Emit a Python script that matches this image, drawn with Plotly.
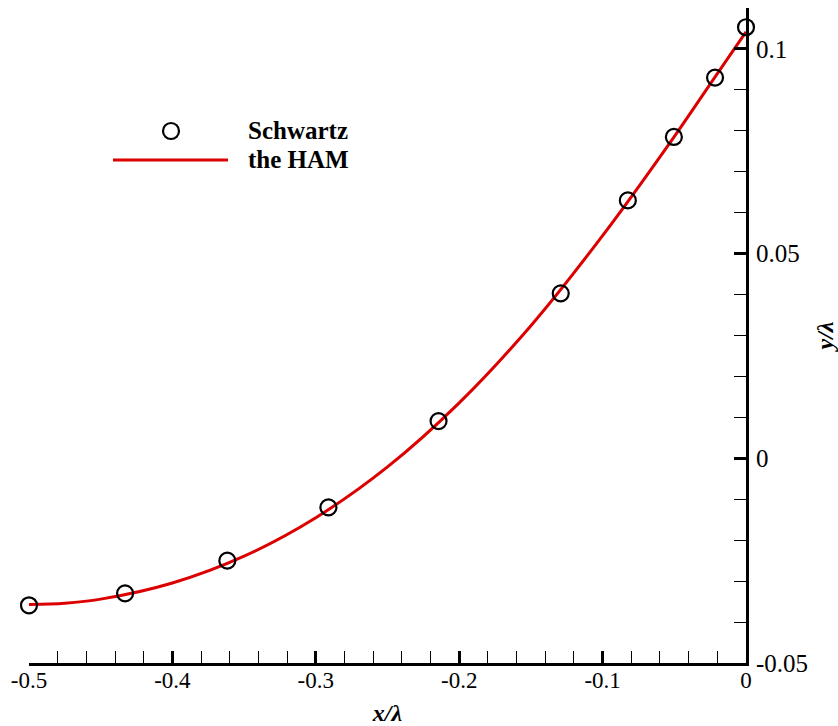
import plotly.graph_objects as go

# Schwartz data (circles)
schwartz_x = [-0.5, -0.433, -0.3617, -0.2912, -0.2144, -0.1292, -0.0824, -0.0503, -0.0216, 0.0]
schwartz_y = [-0.0359, -0.0330, -0.0250, -0.0120, 0.0091, 0.0403, 0.0630, 0.0785, 0.0930, 0.1053]

# HAM curve (red line)
ham_x = [-0.5, -0.475, -0.45, -0.4, -0.35, -0.3, -0.25, -0.2, -0.15, -0.1, -0.05, -0.025, 0.0]
ham_y = [-0.0357, -0.0354, -0.0344, -0.03045, -0.0239, -0.0145, -0.0021, 0.01355, 0.0324, 0.0544, 0.0786, 0.0914, 0.1042]

x_ticks = [-0.5, -0.4, -0.3, -0.2, -0.1, 0]
x_labels = ["-0.5", "-0.4", "-0.3", "-0.2", "-0.1", "0"]
y_ticks = [-0.05, 0, 0.05, 0.1]
y_labels = ["-0.05", "0", "0.05", "0.1"]

RED = "rgb(220,0,0)"
FONT = "Liberation Serif"

fig = go.Figure()
fig.add_trace(go.Scatter(x=ham_x, y=ham_y, mode="lines",
                         line=dict(color=RED, width=3, shape="spline", smoothing=1.0),
                         name="the HAM", showlegend=False, cliponaxis=False))
fig.add_trace(go.Scatter(x=schwartz_x, y=schwartz_y, mode="markers",
                         marker=dict(symbol="circle-open", size=16, color="black", line=dict(width=2.2, color="black")),
                         name="Schwartz", showlegend=False, cliponaxis=False))

axis_common = dict(showline=True, linecolor="black", linewidth=3, ticks="inside", ticklen=12, tickwidth=3,
                   tickcolor="black", showgrid=False, zeroline=False, tickmode="array", automargin=False)

fig.update_xaxes(range=[-0.5, 0], tickvals=x_ticks, ticktext=x_labels, side="bottom",
                 tickfont=dict(family=FONT, size=23, color="black"),
                 minor=dict(tick0=-0.5, dtick=0.02, ticks="inside", ticklen=12, tickwidth=1, tickcolor="black"),
                 title=dict(text="<b><i>x/λ</i></b>", font=dict(family=FONT, size=24, color="black"), standoff=27),
                 ticklabelstandoff=-6, **axis_common)
fig.update_yaxes(range=[-0.05, 0.11], tickvals=y_ticks, ticktext=y_labels, side="right",
                 tickfont=dict(family=FONT, size=25, color="black"),
                 minor=dict(tick0=-0.05, dtick=0.01, ticks="inside", ticklen=12, tickwidth=1, tickcolor="black"),
                 title=dict(text="<b><i>y/λ</i></b>", font=dict(family=FONT, size=24, color="black"), standoff=22),
                 ticklabelstandoff=2, **axis_common)

# Manual legend (decorative)
pw, ph, l, t = 717, 655, 29, 8
def px(xp): return (xp - l) / pw
def py(yp): return (t + ph - yp) / ph

fig.add_shape(type="line", xref="paper", yref="paper", x0=px(113), x1=px(228), y0=py(160), y1=py(160),
              line=dict(color=RED, width=3))
fig.add_shape(type="circle", xref="paper", yref="paper", xsizemode="pixel", ysizemode="pixel",
              xanchor=px(171), yanchor=py(131), x0=-8, x1=8, y0=-8, y1=8,
              line=dict(color="black", width=2.2))
fig.add_annotation(xref="paper", yref="paper", x=px(246), y=py(131), text="<b>Schwartz</b>", showarrow=False,
                   xanchor="left", yanchor="middle", font=dict(family=FONT, size=25, color="black"))
fig.add_annotation(xref="paper", yref="paper", x=px(246), y=py(160), text="<b>the HAM</b>", showarrow=False,
                   xanchor="left", yanchor="middle", font=dict(family=FONT, size=25, color="black"))

fig.update_layout(width=838, height=726, margin=dict(l=29, r=92, t=8, b=63),
                  plot_bgcolor="white", paper_bgcolor="white", showlegend=False)

fig.write_html("out.html")
